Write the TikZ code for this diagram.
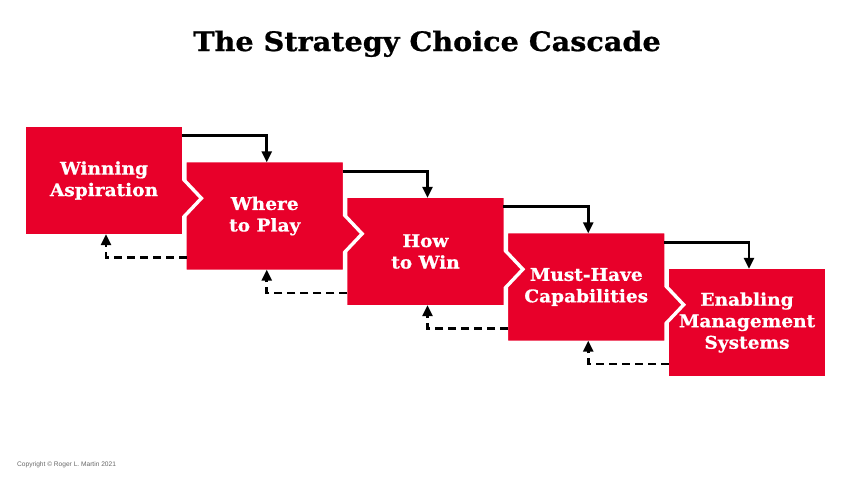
\documentclass[tikz,border=0pt]{standalone}
\usepackage{fontspec}
\setmainfont{DejaVu Serif}
\newfontfamily\titlefont[FakeStretch=1.07,FakeBold=0.8]{DejaVu Serif}
\newfontfamily\boxfont[FakeStretch=1.06,FakeBold=0.7]{DejaVu Serif}
\newfontfamily\copyfont{Liberation Sans}
\usetikzlibrary{arrows.meta,calc}
\pgfdeclarelayer{bg}
\pgfsetlayers{bg,main}
\definecolor{cascred}{RGB}{232,0,42}
\begin{document}
\begin{tikzpicture}[x=1pt,y=-1pt,
  box/.style={minimum width=159.4pt, minimum height=110.4pt, inner sep=0pt, text=white, align=center, font=\boxfont\bfseries\fontsize{17.5}{21.5}\selectfont},
  shapefill/.style={fill=cascred, draw=white, line width=3.4pt, line join=miter},
  downarrow/.style={line width=2.7pt, -{Triangle[length=11pt,width=10pt]}},
  uparrow/.style={downarrow, dash pattern=on 8pt off 5pt}]
\useasboundingbox (0,0) rectangle (853,480);

\node[font=\titlefont\bfseries\fontsize{26.8}{30}\selectfont, anchor=base] (title) at (427,51) {The Strategy Choice Cascade};

\node[box] (b1) at (104,180.5) {Winning\\Aspiration};
\node[box] (b2) at (264.75,216) {Where\\to Play};
\node[box] (b3) at (425.5,251.5) {How\\to Win};
\node[box] (b4) at (586.25,287) {Must-Have\\Capabilities};
\node[box] (b5) at (747,322.5) {Enabling\\Management\\Systems};

\coordinate (m1) at ($(b1.south)!0.5!(b2.north)$);
\coordinate (m2) at ($(b2.south)!0.5!(b3.north)$);
\coordinate (m3) at ($(b3.south)!0.5!(b4.north)$);
\coordinate (m4) at ($(b4.south)!0.5!(b5.north)$);

\begin{pgfonlayer}{bg}
\path[shapefill] (b5.north west) rectangle (b5.south east);
\path[shapefill] (b4.north west) -- (b4.north east) -- ($(b4.east |- m4)+(0,-18.5)$) -- ($(b4.east |- m4)+(17.5,0)$) -- ($(b4.east |- m4)+(0,18.5)$) -- (b4.south east) -- (b4.south west) -- cycle;
\path[shapefill] (b3.north west) -- (b3.north east) -- ($(b3.east |- m3)+(0,-18.5)$) -- ($(b3.east |- m3)+(17.5,0)$) -- ($(b3.east |- m3)+(0,18.5)$) -- (b3.south east) -- (b3.south west) -- cycle;
\path[shapefill] (b2.north west) -- (b2.north east) -- ($(b2.east |- m2)+(0,-18.5)$) -- ($(b2.east |- m2)+(17.5,0)$) -- ($(b2.east |- m2)+(0,18.5)$) -- (b2.south east) -- (b2.south west) -- cycle;
\path[shapefill] (b1.north west) -- (b1.north east) -- ($(b1.east |- m1)+(0,-18.5)$) -- ($(b1.east |- m1)+(17.5,0)$) -- ($(b1.east |- m1)+(0,18.5)$) -- (b1.south east) -- (b1.south west) -- cycle;
\end{pgfonlayer}

\draw[downarrow] ([xshift=-2pt,yshift=-10.7pt]b1.north east) -| ([xshift=2pt,yshift=-1.7pt]b2.north);
\draw[downarrow] ([xshift=-2pt,yshift=-10.7pt]b2.north east) -| ([xshift=2pt,yshift=-1.7pt]b3.north);
\draw[downarrow] ([xshift=-2pt,yshift=-10.7pt]b3.north east) -| ([xshift=2pt,yshift=-1.7pt]b4.north);
\draw[downarrow] ([xshift=-2pt,yshift=-10.7pt]b4.north east) -| ([xshift=2pt,yshift=-1.7pt]b5.north);

\draw[uparrow] ([xshift=1.7pt,yshift=14pt]b2.south west) -| ([xshift=2pt,yshift=1.7pt]b1.south);
\draw[uparrow] ([xshift=1.7pt,yshift=14pt]b3.south west) -| ([xshift=2pt,yshift=1.7pt]b2.south);
\draw[uparrow] ([xshift=1.7pt,yshift=14pt]b4.south west) -| ([xshift=2pt,yshift=1.7pt]b3.south);
\draw[uparrow] ([xshift=1.7pt,yshift=14pt]b5.south west) -| ([xshift=2pt,yshift=1.7pt]b4.south);

\node[font=\copyfont\fontsize{6.6}{8}\selectfont, text=black!60, anchor=west, inner sep=0pt] (copy) at (17,465) {Copyright © Roger L. Martin 2021};
\end{tikzpicture}
\end{document}
